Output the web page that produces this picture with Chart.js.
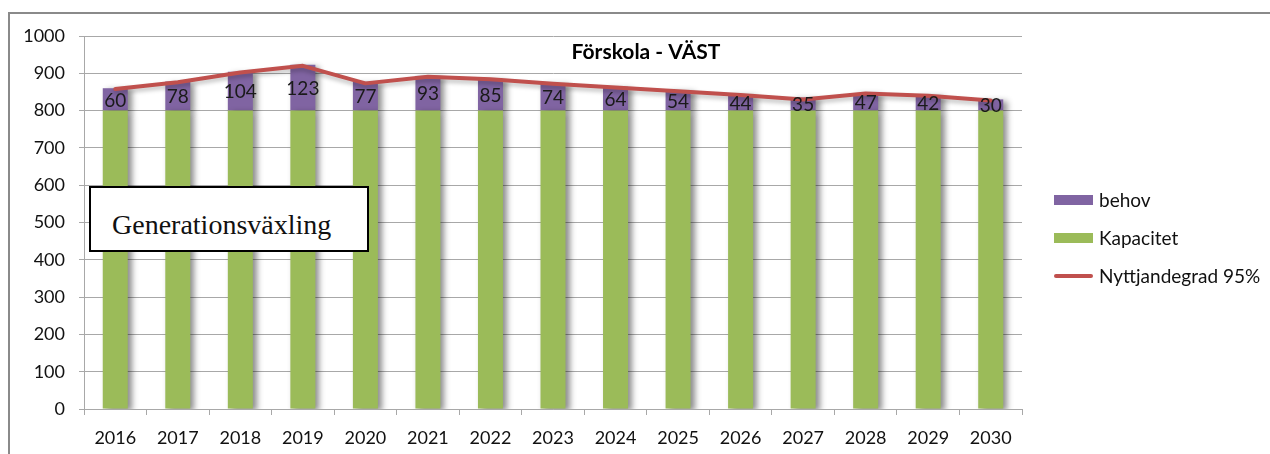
<!DOCTYPE html>
<html>
<head>
<meta charset="utf-8">
<script src="https://cdn.jsdelivr.net/npm/chart.js@4"></script>
<style>
  body { margin: 0; background: #fff; }
  #wrap { position: relative; width: 1270px; height: 454px; overflow: hidden; }
  #frame { position: absolute; left: 8px; top: 12px; width: 1280px; height: 460px;
           border-left: 2px solid #8a8a8a; border-top: 2px solid #8a8a8a; }
  canvas { position: absolute; left: 0; top: 0; }
  .leg { position: absolute; left: 1054px; font: 19px Lato, sans-serif; color: #111; }
  .leg i { position: absolute; left: 0; width: 39px; }
  .leg span { position: absolute; left: 45px; top: -12px; white-space: nowrap; }
  #note { position: absolute; left: 89px; top: 186px; width: 276px; height: 62px;
          border: 2px solid #000; background: #fff;
          font: 28px "Liberation Serif", "DejaVu Serif", serif; color: #111; }
  #note span { position: absolute; left: 21px; top: 21px; }
</style>
</head>
<body>
<div id="wrap">
  <div id="frame"></div>
  <canvas id="chart" width="1270" height="454"></canvas>
  <div id="note"><span>Generationsväxling</span></div>
  <div class="leg" style="top:200px"><i style="top:-5px;height:10px;background:#8064A2"></i><span>behov</span></div>
  <div class="leg" style="top:238px"><i style="top:-5px;height:10px;background:#9BBB59"></i><span>Kapacitet</span></div>
  <div class="leg" style="top:276px"><i style="top:-2px;height:4px;background:#C0504D;border-radius:2px"></i><span>Nyttjandegrad 95%</span></div>
</div>
<script>
const years = ['2016', '2017', '2018', '2019', '2020', '2021', '2022', '2023',
               '2024', '2025', '2026', '2027', '2028', '2029', '2030'];
const kapacitet = [800, 800, 800, 800, 800, 800, 800, 800, 800, 800, 800, 800, 800, 800, 800];
const behov = [60, 78, 104, 123, 77, 93, 85, 74, 64, 54, 44, 35, 47, 42, 30];
const nyttjandegrad = [858, 876, 902, 920, 873, 891, 884, 872, 862, 852, 842, 830, 846, 840, 827];
const yTicks = [0, 100, 200, 300, 400, 500, 600, 700, 800, 900, 1000];

const gridColor = '#a8a8a8';

// skugga bakom staplar och linje
const shadowPlugin = {
  id: 'shadow',
  beforeDatasetDraw(chart, args) {
    const ctx = chart.ctx;
    ctx.save();
    if (args.meta.type === 'bar') {
      ctx.shadowColor = 'rgba(0,0,0,0.45)';
      ctx.shadowOffsetX = 4;
      ctx.shadowOffsetY = 2;
      ctx.shadowBlur = 6;
    } else {
      ctx.shadowColor = 'rgba(0,0,0,0.25)';
      ctx.shadowOffsetY = 3;
      ctx.shadowBlur = 4;
    }
  },
  afterDatasetDraw(chart) {
    chart.ctx.restore();
  }
};

const labelPlugin = {
  id: 'labels',
  afterDatasetsDraw(chart) {
    const ctx = chart.ctx;
    const meta = chart.getDatasetMeta(1);
    ctx.save();
    ctx.font = '19px Lato, sans-serif';
    ctx.fillStyle = '#1a1a1a';
    ctx.textAlign = 'center';
    ctx.textBaseline = 'middle';
    meta.data.forEach((bar, i) => {
      ctx.fillText(String(behov[i]), bar.x, (bar.y + bar.base) / 2 + 1);
    });
    // titel
    ctx.font = 'bold 21px Lato, sans-serif';
    ctx.fillStyle = '#000';
    ctx.fillText('Förskola - VÄST', 646, 52);
    ctx.restore();
  }
};

const ctx = document.getElementById('chart').getContext('2d');
new Chart(ctx, {
  data: {
    labels: years,
    datasets: [
      { type: 'bar', label: 'Kapacitet', data: kapacitet, backgroundColor: '#9BBB59',
        stack: 'bars', order: 1, barPercentage: 0.4, categoryPercentage: 1 },
      { type: 'bar', label: 'behov', data: behov, backgroundColor: '#8064A2',
        stack: 'bars', order: 1, barPercentage: 0.4, categoryPercentage: 1 },
      { type: 'line', label: 'Nyttjandegrad 95%', data: nyttjandegrad, borderColor: '#C0504D',
        borderWidth: 4, pointRadius: 0, tension: 0, stack: 'line', order: 0,
        borderCapStyle: 'round', borderJoinStyle: 'round' }
    ]
  },
  options: {
    responsive: false,
    animation: false,
    layout: { padding: { left: 0, top: 36, right: 248, bottom: 0 } },
    plugins: {
      legend: { display: false },
      tooltip: { enabled: false }
    },
    scales: {
      x: {
        stacked: true,
        offset: true,
        grid: { offset: true, drawOnChartArea: false, color: gridColor, tickLength: 6 },
        border: { color: gridColor },
        ticks: { color: '#111', font: { family: 'Lato', size: 18 }, padding: 12, maxRotation: 0 },
        afterFit(scale) { scale.height = 45; }
      },
      y: {
        stacked: true,
        min: 0,
        max: 1000,
        afterBuildTicks(scale) { scale.ticks = yTicks.map(v => ({ value: v })); },
        grid: { color: gridColor, tickLength: 5 },
        border: { color: gridColor },
        ticks: { color: '#111', font: { family: 'Lato', size: 18 }, padding: 14,
                 callback: v => String(v) },
        afterFit(scale) { scale.width = 84; }
      }
    }
  },
  plugins: [shadowPlugin, labelPlugin]
});
</script>
</body>
</html>
